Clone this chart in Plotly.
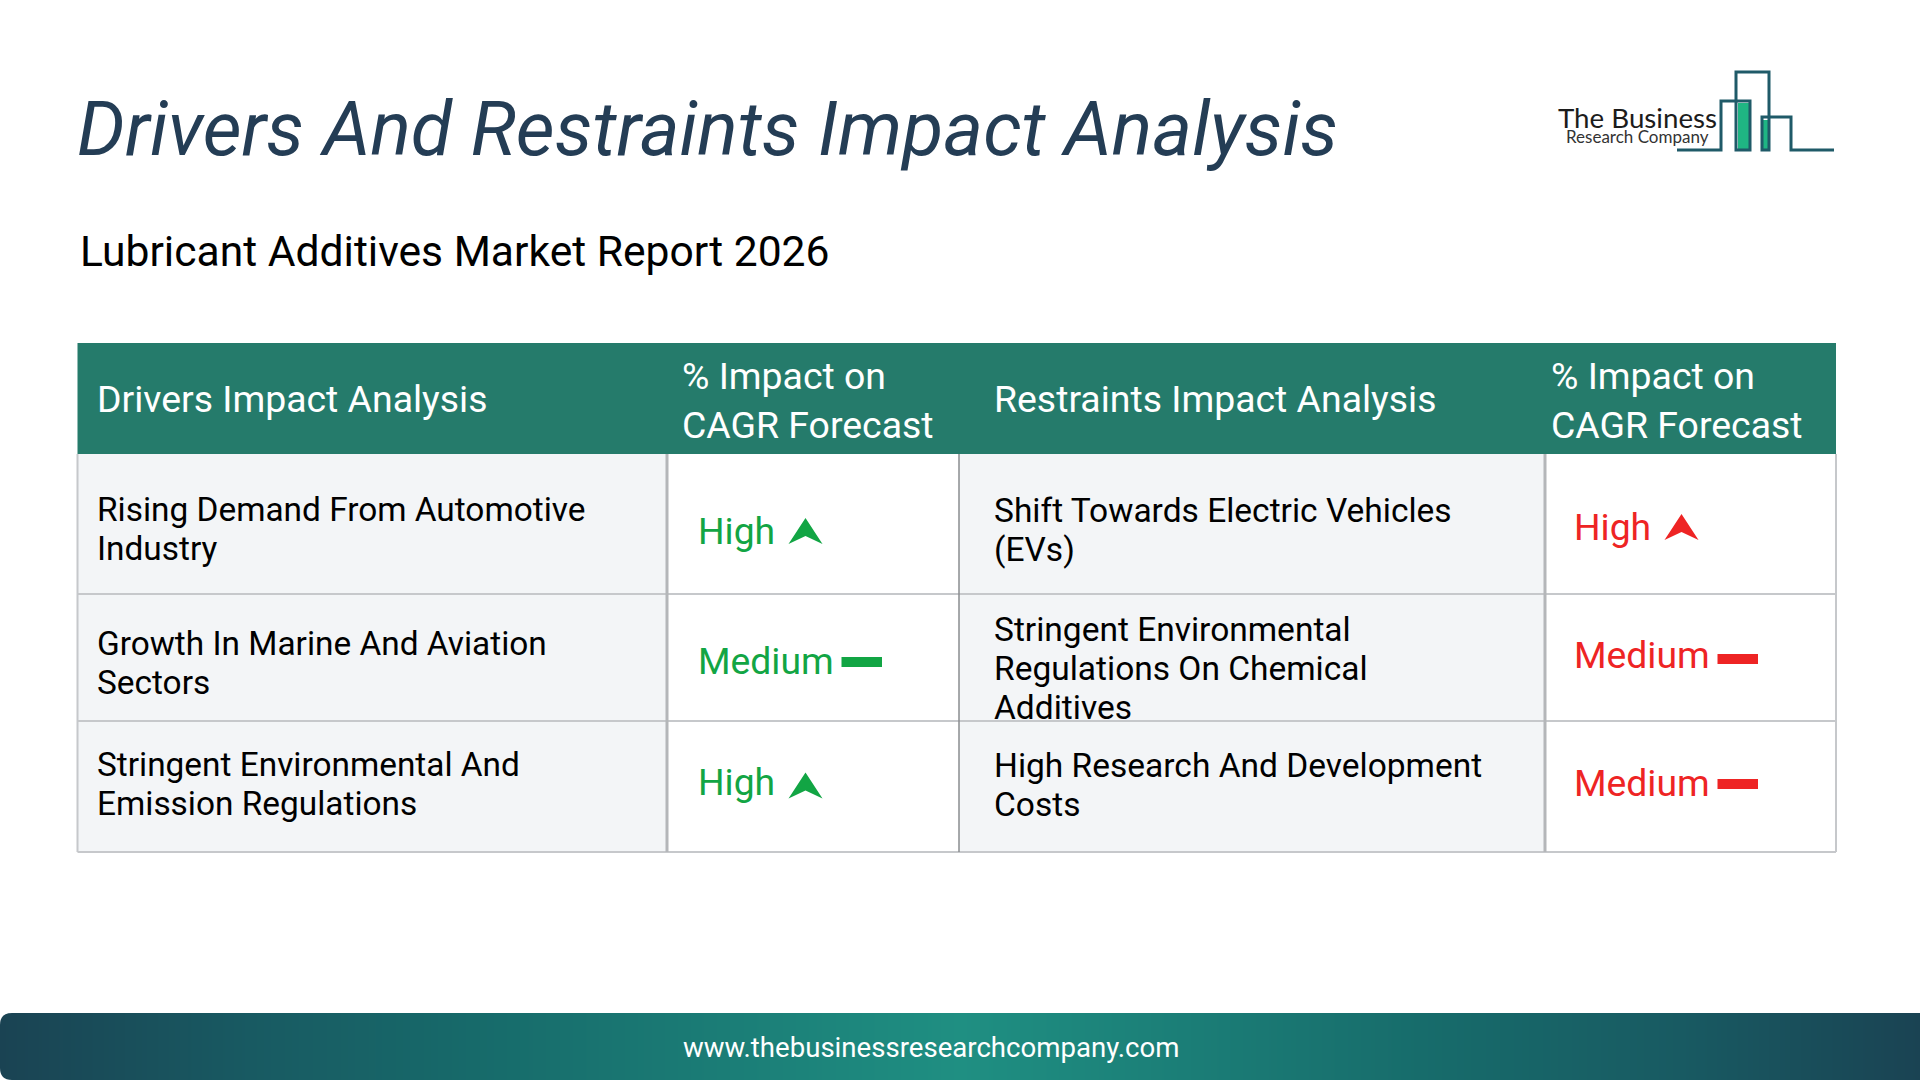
import plotly.graph_objects as go

title = 'Drivers And Restraints Impact Analysis'
subtitle = 'Lubricant Additives Market Report 2026'
footer = 'www.thebusinessresearchcompany.com'

header_labels = ['Drivers Impact Analysis', '% Impact on|CAGR Forecast',
                 'Restraints Impact Analysis', '% Impact on|CAGR Forecast']

driver_names = ['Rising Demand From Automotive|Industry',
                'Growth In Marine And Aviation|Sectors',
                'Stringent Environmental And|Emission Regulations']
driver_impact = ['High', 'Medium', 'High']
restraint_names = ['Shift Towards Electric Vehicles|(EVs)',
                   'Stringent Environmental|Regulations On Chemical|Additives',
                   'High Research And Development|Costs']
restraint_impact = ['High', 'Medium', 'Medium']

# table geometry, pixels on a 1920x1080 canvas
col_x = [77.5, 667, 959, 1545, 1836]
row_y = [454, 594, 721, 852]
header_top = 343

driver_text_y = [529, 663, 784]
driver_level_y = [531, 661, 782]
driver_mark_y = [531, 662, 785.5]
restraint_text_y = [530, 668.5, 785]
restraint_level_y = [526.5, 655, 783]
restraint_mark_y = [527, 659, 784]

GREEN = '#12a544'
RED = '#ee2424'
GRID = '#c6c8cb'
FONT = 'Roboto'

shapes = []
annotations = []


def rect(x0, y0, x1, y1, fill):
    shapes.append(dict(type='rect', x0=x0, y0=y0, x1=x1, y1=y1, fillcolor=fill, line=dict(width=0)))


def hline(x0, x1, y, color=GRID, width=2):
    shapes.append(dict(type='line', x0=x0, x1=x1, y0=y, y1=y, line=dict(color=color, width=width)))


def vline(x, y0, y1, color=GRID, width=2):
    shapes.append(dict(type='line', x0=x, x1=x, y0=y0, y1=y1, line=dict(color=color, width=width)))


def text(x, y, s, size, color='#000000', anchor='left', style='normal', family=FONT):
    annotations.append(dict(x=x, y=y, text=s, showarrow=False, xanchor=anchor, yanchor='middle',
                            align='left', font=dict(family=family, size=size, color=color, style=style)))


def cell_text(x, y, s, size, pitch, color='#000000'):
    # own annotation per line, the reference has tighter leading than plotly's <br>
    lines = s.split('|')
    top = y - pitch * (len(lines) - 1) / 2
    for n, part in enumerate(lines):
        text(x, top + n * pitch, part, size, color)


def level_mark(level, x, y, mark_y, size, color):
    # label plus its arrow or dash
    text(x, y, level, size, color)
    if level == 'High':
        cx = x + 110
        top, bottom = mark_y - 13, mark_y + 13
        shapes.append(dict(type='path', fillcolor=color, line=dict(width=0),
                           path=f'M {cx} {top} L {cx + 17} {bottom} L {cx} {bottom - 8} L {cx - 17} {bottom} Z'))
    else:
        rect(x + 146, mark_y - 5, x + 186.5, mark_y + 5, color)


fig = go.Figure()

# footer band, gradient comes from a smoothed heatmap
fig.add_trace(go.Heatmap(
    x=[0, 250, 500, 960, 1420, 1680, 1920], y=[1029.75, 1063.25],
    z=[[0, 0.3, 0.6, 1, 0.6, 0.3, 0]] * 2,
    colorscale=[[0, '#1a4353'], [0.3, '#185a62'], [0.6, '#176c6b'], [1, '#1f8f82']],
    zsmooth='best', showscale=False, hoverinfo='skip'))

# rounded left corners of the footer
shapes.append(dict(type='path', fillcolor='white', line=dict(width=0),
                   path='M 0 1013 L 12 1013 Q 0 1013 0 1025 Z'))
shapes.append(dict(type='path', fillcolor='white', line=dict(width=0),
                   path='M 0 1080 L 12 1080 Q 0 1080 0 1068 Z'))

# table fills
rect(col_x[0], row_y[0], col_x[1], row_y[3], '#f3f5f7')
rect(col_x[2], row_y[0], col_x[3], row_y[3], '#f3f5f7')
rect(col_x[0], header_top, col_x[4], row_y[0], '#257b6b')

# table rules
for y in row_y[1:]:
    hline(col_x[0], col_x[4], y)
vline(col_x[0], row_y[0], row_y[3])
vline(col_x[1], row_y[0], row_y[3], '#b4b6b9', 3)
vline(col_x[2], row_y[0], row_y[3], '#8a8c8f', 1.5)
vline(col_x[3], row_y[0], row_y[3], '#b4b6b9', 3)
vline(col_x[4], row_y[0], row_y[3])

# heading text
text(75, 129, title, 75.5, '#243d55', style='italic')
text(78, 251, subtitle, 42.6)
text(931, 1047, footer, 27.6, '#ffffff', anchor='center')

# header cells
for x, label in zip([95, 680, 991.5, 1549], header_labels):
    cell_text(x, 400 if '|' in label else 399, label, 37.4, 49, '#ffffff')

# body cells
for i in range(3):
    cell_text(95, driver_text_y[i], driver_names[i], 33.4, 39)
    cell_text(991.5, restraint_text_y[i], restraint_names[i], 33.5, 39)
    level_mark(driver_impact[i], 695.5, driver_level_y[i], driver_mark_y[i], 37.3, GREEN)
    level_mark(restraint_impact[i], 1571.5, restraint_level_y[i], restraint_mark_y[i], 37.3, RED)

# logo
line_x = [1677, 1721, 1721, 1750, 1750, 1736, 1736, 1769, 1769, 1762, 1762, 1791, 1791, 1834]
line_y = [150, 150, 101, 101, 150, 150, 72, 72, 150, 150, 117, 117, 150, 150]
rect(1738, 103, 1749, 150, '#1fb583')
rect(1763, 120, 1769, 150, '#1fb583')
logo_path = 'M ' + ' L '.join(f'{x} {y}' for x, y in zip(line_x, line_y))
shapes.append(dict(type='path', path=logo_path, line=dict(color='#1f5a68', width=3)))
text(1556, 117, 'The Business', 27.7, '#1c1c1c', family='Lato')
text(1564, 136.5, 'Research Company', 17, '#333333', family='Lato')

fig.update_layout(
    width=1920, height=1080, margin=dict(l=0, r=0, t=0, b=0),
    paper_bgcolor='white', plot_bgcolor='white',
    xaxis=dict(range=[0, 1920], visible=False, fixedrange=True),
    yaxis=dict(range=[1080, 0], visible=False, fixedrange=True),
    shapes=shapes, annotations=annotations, showlegend=False)

fig.write_html("out.html", config={'displayModeBar': False},
               post_script="document.body.style.margin='0';")
